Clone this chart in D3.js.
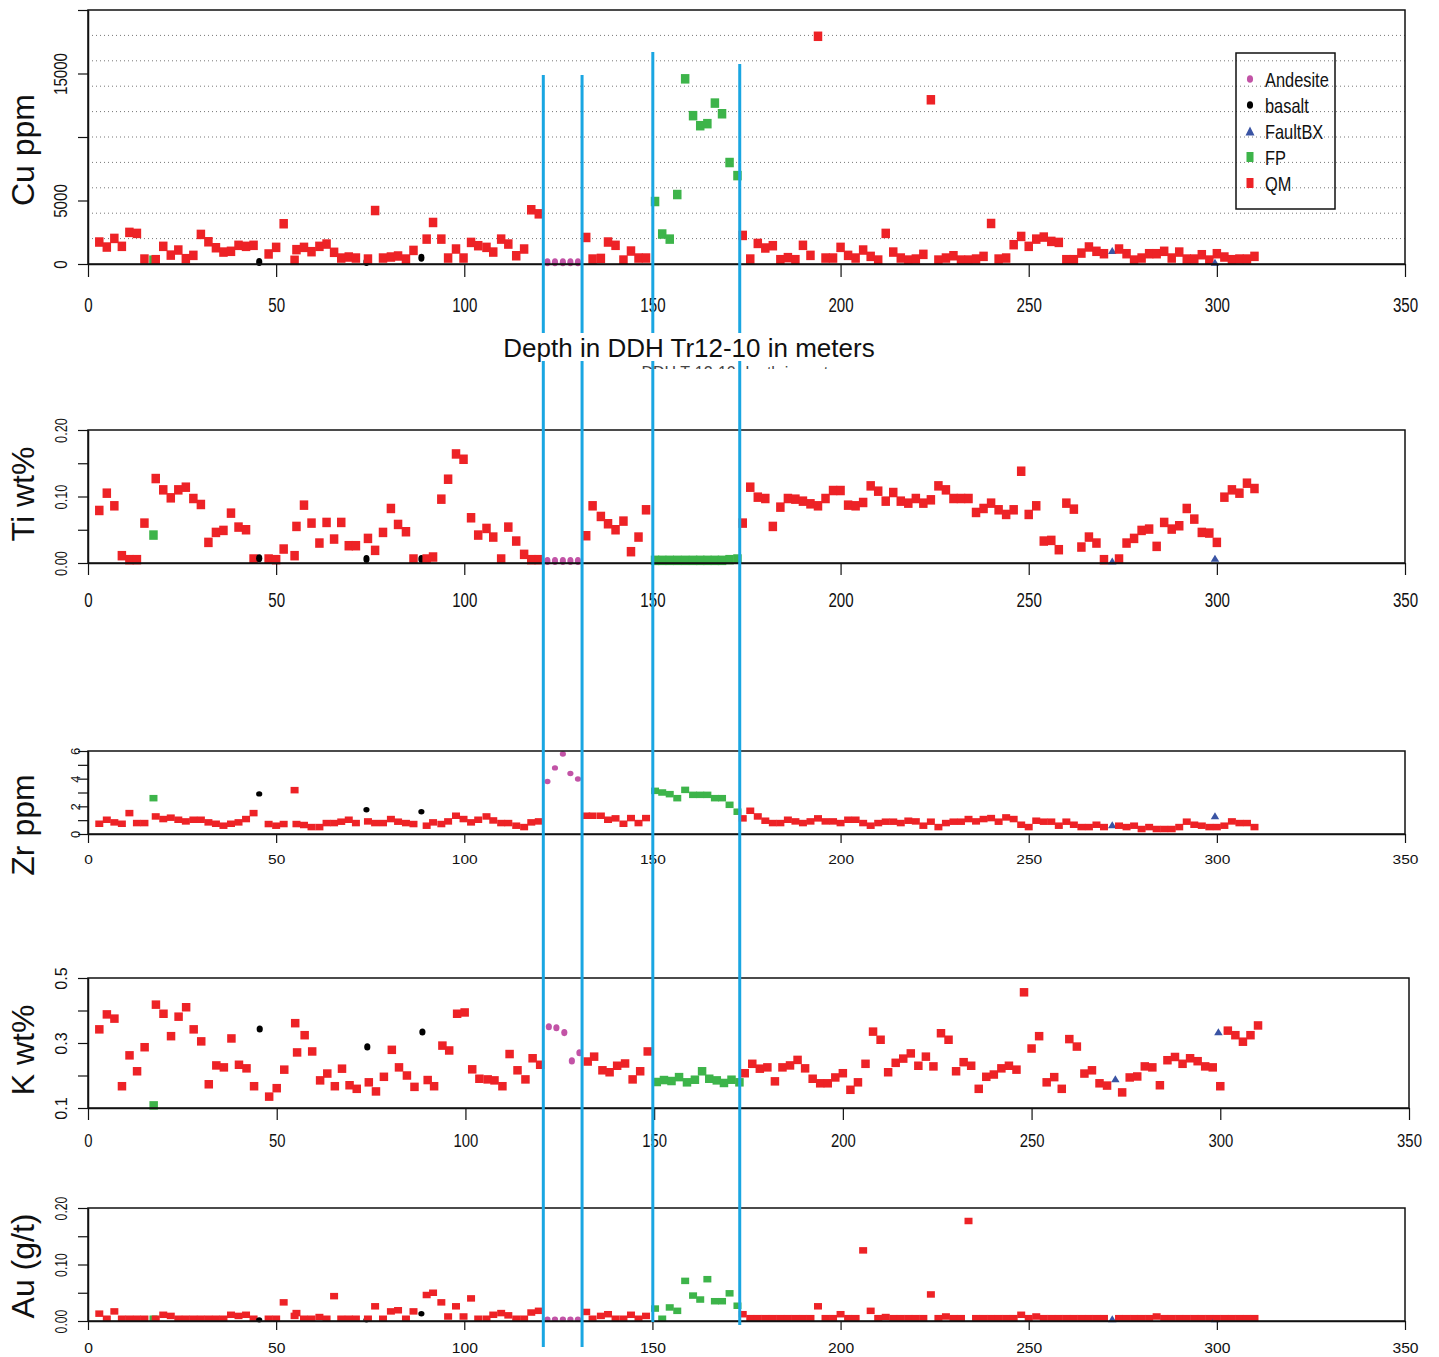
<!DOCTYPE html>
<html>
<head>
<meta charset="utf-8">
<script src="https://cdn.jsdelivr.net/npm/d3@7"></script>
<style>
body { margin: 0; background: #fff; }
svg { display: block; font-family: "Liberation Sans", Arial, sans-serif; }
</style>
</head>
<body>
<script>
// ---- data (depth in m) ----
const xTicks = [0, 50, 100, 150, 200, 250, 300, 350]
const contactDepths = [121.0, 131.3, 150.1, 173.2]
const lithoNames = ['Andesite', 'basalt', 'FaultBX', 'FP', 'QM']

const qmDepth = [3,5,7,9,11,13,15, 18,20,22,24,26,28,30,32,34,36,38,40,42,44, 48,50,52, 54.9,55.4,
  57.4,59.4,61.5,63.4,65.4,67.3,69.3,71.2, 74.4,76.3,78.4,80.5,82.4,84.5,86.5,
  90,91.7,93.9,95.7,97.8,99.8,101.8,103.7,105.9,107.7,109.8,111.7,113.8,115.9,117.8,119.8,
  132.4,134.1,136.3,138.2,140.2,142.3,144.3,146.3,148.3,
  174,176,178,180,182,184,186,188,190,192, 194,196,198,200,202,204,206,208,210,212,
  214,216,218,220,222,224,226,228,230,232, 234,236,238,240,242,244,246,248,250,252,
  254,256,258,260,262,264,266,268,270, 274,276,278,280,282,284,286,288,290,292,
  294,296,298,300,302,304,306,308,310]
const qmCu = [1730,1335,2015,1390,2490,2410,390, 340,1390,700,1100,420,680,2330,1750,1280,940,1000,1470,1390,1470,
  790,1310,3170, 290,1130, 1310,970,1390,1570,920,470,550,470, 390,4210,470,550,630,390,1070,
  1960,3270,1960,470,1180,470,1700,1440,1310,940,1960,1570,650,1180,4270,3950,
  2090,390,440,1730,1470,310,1020,470,470,
  2250,390,1620,1260,1440,340,500,340,1470,680, 17930,470,470,1310,680,470,1100,600,310,2410,
  940,470,310,390,760,12930,310,470,650,310, 310,390,600,3190,390,470,1520,2170,1390,1960,
  2120,1780,1700,340,340,860,1340,1000,810, 1180,810,310,470,810,810,1000,470,940,390,
  390,730,310,810,550,340,390,390,600]
const qmTi = [0.079,0.105,0.086,0.011,0.005,0.005,0.060,
  0.127,0.110,0.098,0.110,0.114,0.097,0.088,0.031,0.046,0.049,0.075,0.054,0.050,0.006,
  0.006,0.005,0.021, 0.011,0.055, 0.087,0.060,0.030,0.061,0.036,0.061,0.026,0.026,
  0.037,0.019,0.046,0.082,0.058,0.047,0.006,
  0.006,0.009,0.096,0.126,0.164,0.156,0.068,0.042,0.052,0.039,0.006,0.054,0.033,0.013,0.005,0.005,
  0.041,0.086,0.070,0.059,0.050,0.063,0.017,0.039,0.080,
  0.060,0.114,0.099,0.097,0.055,0.084,0.097,0.096,0.093,0.089,
  0.086,0.097,0.109,0.109,0.087,0.086,0.091,0.116,0.108,0.093,
  0.106,0.093,0.090,0.097,0.090,0.095,0.116,0.110,0.097,0.097,
  0.097,0.076,0.082,0.090,0.080,0.073,0.080,0.138,0.073,0.086,
  0.033,0.034,0.020,0.090,0.081,0.024,0.039,0.030,0.005,
  0.006,0.030,0.037,0.049,0.051,0.025,0.061,0.051,0.056,0.082,
  0.066,0.046,0.045,0.031,0.099,0.110,0.105,0.120,0.112]
const qmZr = [0.74,1.03,0.84,0.74,1.51,0.79,0.79,
  1.27,1.08,1.18,1.03,0.91,1.03,1.03,0.84,0.74,0.60,0.74,0.84,1.08,1.51,
  0.72,0.60,0.72, 3.17,0.72, 0.65,0.50,0.50,0.79,0.79,0.89,1.03,0.79,
  0.91,0.79,0.79,1.08,0.89,0.79,0.72,
  0.60,0.84,0.72,0.91,1.32,1.08,0.84,1.03,1.27,0.98,0.79,0.79,0.60,0.50,0.84,0.91,
  1.32,1.32,1.32,1.03,1.13,0.74,1.15,0.79,1.15,
  1.13,1.68,1.27,0.96,0.79,0.79,1.03,0.91,0.79,0.91,
  1.13,0.91,0.91,0.79,1.03,1.03,0.79,0.60,0.79,0.89,
  0.89,0.79,0.96,0.91,0.60,0.89,0.50,0.79,0.89,0.89,
  1.08,0.91,1.08,1.15,0.89,1.20,1.08,0.67,0.50,0.96,
  0.89,0.89,0.60,0.89,0.67,0.50,0.50,0.67,0.50,
  0.60,0.50,0.60,0.36,0.50,0.36,0.36,0.36,0.50,0.89,
  0.67,0.60,0.50,0.50,0.60,0.91,0.79,0.79,0.50]
const qmK = [0.342,0.388,0.375,0.167,0.262,0.213,0.287,
  0.418,0.390,0.321,0.381,0.410,0.342,0.305,0.173,0.231,0.225,0.314,0.233,0.222,0.167,
  0.135,0.161,0.218, 0.361,0.271, 0.324,0.274,0.185,0.206,0.167,0.221,0.170,0.159,
  0.179,0.151,0.196,0.279,0.225,0.200,0.165,
  0.186,0.167,0.292,0.277,0.390,0.394,0.219,0.190,0.188,0.185,0.167,0.266,0.216,0.188,0.253,0.233,
  0.243,0.258,0.216,0.210,0.230,0.237,0.188,0.213,0.274,
  0.207,0.236,0.221,0.225,0.182,0.225,0.231,0.248,0.222,0.190,
  0.176,0.176,0.194,0.207,0.156,0.179,0.236,0.335,0.310,0.210,
  0.239,0.252,0.268,0.230,0.258,0.228,0.330,0.310,0.213,0.241,
  0.230,0.159,0.196,0.203,0.222,0.230,0.218,0.456,0.283,0.321,
  0.179,0.195,0.159,0.312,0.289,0.206,0.216,0.176,0.169,
  0.148,0.194,0.197,0.228,0.225,0.170,0.247,0.257,0.236,0.253,
  0.244,0.228,0.225,0.167,0.338,0.324,0.304,0.324,0.354]
const qmAu = [0.013,0.004,0.017,0.004,0.004,0.004,0.004,
  0.004,0.011,0.009,0.004,0.004,0.004,0.004,0.004,0.004,0.004,0.011,0.009,0.011,0.004,
  0.004,0.004,0.033, 0.009,0.014, 0.004,0.004,0.007,0.004,0.044,0.004,0.004,0.004,
  0.004,0.026,0.004,0.017,0.019,0.004,0.017,
  0.046,0.050,0.033,0.008,0.026,0.008,0.040,0.004,0.004,0.011,0.014,0.010,0.004,0.004,0.015,0.018,
  0.016,0.004,0.009,0.012,0.004,0.004,0.011,0.004,0.009,
  0.012,0.005,0.005,0.005,0.005,0.005,0.005,0.005,0.005,0.005,
  0.026,0.005,0.005,0.012,0.005,0.005,0.125,0.018,0.005,0.007,
  0.005,0.005,0.005,0.005,0.005,0.047,0.005,0.008,0.005,0.005,
  0.177,0.005,0.005,0.005,0.005,0.005,0.005,0.011,0.005,0.008,
  0.005,0.005,0.005,0.005,0.005,0.005,0.005,0.005,0.005,
  0.005,0.005,0.005,0.005,0.005,0.008,0.005,0.005,0.005,0.005,
  0.005,0.005,0.005,0.005,0.005,0.005,0.005,0.005,0.005]

const fpDepth = [17.4, 150.7,152.6,154.6,156.6,158.7,160.8,162.7,164.6,166.6,168.5,170.5,172.6]
const fpCu = [300, 4920,2360,1960,5470,14580,11680,10890,11050,12670,11830,7990,6960]
const fpTi = [0.042, 0.004,0.004,0.004,0.004,0.004,0.004,0.004,0.004,0.004,0.004,0.005,0.006]
const fpZr = [2.59, 3.12,3.00,2.88,2.59,3.19,2.83,2.83,2.83,2.59,2.59,2.11,1.61]
const fpK = [0.108, 0.180,0.186,0.183,0.195,0.179,0.187,0.213,0.190,0.185,0.177,0.187,0.179]
const fpAu = [0.004, 0.022,0.004,0.024,0.018,0.071,0.045,0.038,0.074,0.035,0.035,0.049,0.027]

const andDepth = [122.1, 124.1, 126.2, 128.2, 130.2]
const andCu = [130, 130, 130, 130, 130]
const andTi = [0.003, 0.003, 0.003, 0.003, 0.003]
const andZr = [3.79, 4.78, 5.78, 4.37, 3.98]
const andK = [0.350, 0.347, 0.332, 0.245, 0.270]
const andAu = [0.003, 0.003, 0.003, 0.003, 0.003]

const basDepth = [45.5, 74.0, 88.6]
const basCu = [150, 150, 500]
const basTi = [0.007, 0.006, 0.006]
const basZr = [2.90, 1.75, 1.61]
const basK = [0.343, 0.288, 0.334]
const basAu = [0.002, 0.002, 0.013]

const fbxDepth = [272.2, 299.5]
const fbxCu = [1070, 130]
const fbxTi = [0.003, 0.007]
const fbxZr = [0.67, 1.32]
const fbxK = [0.190, 0.335]
const fbxAu = [0.004, 0.004]

const cuGrid = [2000, 4000, 6000, 8000, 10000, 12000, 14000, 16000, 18000]

// ---- lithologies ----
const lithos = [
  {name: 'Andesite', depth: andDepth, vals: {cu: andCu, ti: andTi, zr: andZr, k: andK, au: andAu}, shape: 'circle', color: '#c253a6'},
  {name: 'basalt', depth: basDepth, vals: {cu: basCu, ti: basTi, zr: basZr, k: basK, au: basAu}, shape: 'circle', color: '#000000'},
  {name: 'FaultBX', depth: fbxDepth, vals: {cu: fbxCu, ti: fbxTi, zr: fbxZr, k: fbxK, au: fbxAu}, shape: 'triangle', color: '#3a54a4'},
  {name: 'FP', depth: fpDepth, vals: {cu: fpCu, ti: fpTi, zr: fpZr, k: fpK, au: fpAu}, shape: 'square', color: '#3db44a'},
  {name: 'QM', depth: qmDepth, vals: {cu: qmCu, ti: qmTi, zr: qmZr, k: qmK, au: qmAu}, shape: 'square', color: '#ed2226'}
]

// ---- panel layout ----
const panels = [
  {key: 'cu', title: 'Cu ppm', top: 10, bottom: 264, right: 1405, domain: [0, 20000],
    ticks: [0, 5000, 10000, 15000, 20000], labels: [0, 5000, 15000], fmt: d3.format('d'),
    mw: 8.5, mh: 9.5, xTick: 13, xBase: 312, xFont: 21, xs: 0.72, yFont: 18, ys: 0.84, yBase: 67, titleY: 150},
  {key: 'ti', title: 'Ti wt%', top: 430, bottom: 563, right: 1405, domain: [0, 0.2],
    ticks: [0, 0.05, 0.1, 0.15, 0.2], labels: [0, 0.1, 0.2], fmt: d3.format('.2f'),
    mw: 8.5, mh: 9.5, xTick: 12, xBase: 607, xFont: 21, xs: 0.72, yFont: 17, ys: 0.75, yBase: 67, titleY: 494},
  {key: 'zr', title: 'Zr ppm', top: 751, bottom: 834, right: 1405, domain: [0, 6],
    ticks: [0, 1, 2, 3, 4, 5, 6], labels: [0, 2, 4, 6], fmt: d3.format('d'),
    mw: 8, mh: 6.5, xTick: 9, xBase: 864, xFont: 13.5, xs: 1.15, yFont: 13, ys: 1.0, yBase: 80, titleY: 825},
  {key: 'k', title: 'K wt%', top: 978, bottom: 1108, right: 1409, domain: [0.1, 0.5],
    ticks: [0.1, 0.2, 0.3, 0.4, 0.5], labels: [0.1, 0.3, 0.5], fmt: d3.format('.1f'),
    mw: 8.5, mh: 8.5, xTick: 12, xBase: 1147, xFont: 18.6, xs: 0.8, yFont: 17, ys: 0.95, yBase: 67, titleY: 1050},
  {key: 'au', title: 'Au (g/t)', top: 1208, bottom: 1321, right: 1405, domain: [0, 0.2],
    ticks: [0, 0.05, 0.1, 0.15, 0.2], labels: [0, 0.1, 0.2], fmt: d3.format('.2f'),
    mw: 8, mh: 6.5, xTick: 9, xBase: 1353, xFont: 14.5, xs: 1.08, yFont: 17, ys: 0.72, yBase: 67, titleY: 1266}
]
const left = 88
const lineTops = [75, 75, 52, 64]
const lineBottoms = [1347, 1347, 1322, 1325]

const svg = d3.select('body').append('svg').attr('width', 1439).attr('height', 1357)

function symbol(g, shape, color, w, h){
  if(shape === 'square'){
    g.append('rect').attr('x', -w / 2).attr('y', -h / 2).attr('width', w).attr('height', h).attr('fill', color)
  } else if(shape === 'circle'){
    g.append('ellipse').attr('rx', w * 0.44).attr('ry', h * 0.42).attr('fill', color)
  } else {
    g.append('path').attr('d', `M0,${-h / 2}L${w / 2},${h / 2}L${-w / 2},${h / 2}Z`).attr('fill', color)
  }
}

let cuX = null
panels.forEach(p => {
  const x = d3.scaleLinear().domain([0, 350]).range([left, p.right])
  const y = d3.scaleLinear().domain(p.domain).range([p.bottom, p.top])
  if(p.key === 'cu') cuX = x
  const g = svg.append('g').attr('class', 'panel-' + p.key)

  if(p.key === 'cu'){
    g.selectAll('line.grid').data(cuGrid).join('line')
      .attr('class', 'grid')
      .attr('x1', left).attr('x2', p.right)
      .attr('y1', d => y(d)).attr('y2', d => y(d))
      .attr('stroke', '#777').attr('stroke-width', 1).attr('stroke-dasharray', '1,3')
  }

  // points, drawn in depth order
  const pts = lithos.flatMap(l => l.depth.map((d, i) => ({d: d, v: l.vals[p.key][i], l: l})))
    .sort((a, b) => a.d - b.d)
  pts.forEach(pt => {
    const s = g.append('g').attr('transform', `translate(${x(pt.d)},${y(pt.v)})`)
    const tri = pt.l.shape === 'triangle'
    symbol(s, pt.l.shape, pt.l.color, tri ? 8.5 : pt.l.shape === 'circle' ? 7 : p.mw, tri ? 7 : p.mh)
  })

  // box
  g.append('rect').attr('x', left).attr('y', p.top).attr('width', p.right - left).attr('height', p.bottom - p.top)
    .attr('fill', 'none').attr('stroke', '#111').attr('stroke-width', 1.5)

  // x axis
  const xa = g.append('g').attr('transform', `translate(0,${p.bottom})`)
    .call(d3.axisBottom(x).tickValues(xTicks).tickSize(p.xTick).tickSizeOuter(0).tickFormat(d3.format('d')))
  xa.select('.domain').attr('stroke', '#111').attr('stroke-width', 1.5)
  xa.selectAll('.tick line').attr('stroke', '#111').attr('stroke-width', 1.2)
  xa.selectAll('.tick text')
    .attr('y', null).attr('dy', null)
    .attr('transform', `translate(0,${p.xBase - p.bottom}) scale(${p.xs},1)`)
    .attr('font-size', p.xFont).attr('font-family', '"Liberation Sans", Arial, sans-serif').attr('fill', '#111')

  // y axis
  const ya = g.append('g').attr('transform', `translate(${left},0)`)
    .call(d3.axisLeft(y).tickValues(p.ticks).tickSize(10).tickSizeOuter(0)
      .tickFormat(d => p.labels.some(v => Math.abs(v - d) < 1e-9) ? p.fmt(d) : ''))
  ya.select('.domain').attr('stroke', '#111').attr('stroke-width', 1.5)
  ya.selectAll('.tick line').attr('stroke', '#111').attr('stroke-width', 1.2)
  ya.selectAll('.tick text')
    .attr('x', null).attr('dy', null)
    .attr('text-anchor', 'middle')
    .attr('transform', `translate(${p.yBase - left},0) rotate(-90) scale(${p.ys},1)`)
    .attr('font-size', p.yFont).attr('font-family', '"Liberation Sans", Arial, sans-serif').attr('fill', '#111')

  // y title
  svg.append('text')
    .attr('transform', `translate(34,${p.titleY}) rotate(-90)`)
    .attr('text-anchor', 'middle').attr('font-size', 32).attr('fill', '#111')
    .text(p.title)
})

// contact lines
svg.selectAll('line.contact').data(contactDepths).join('line')
  .attr('class', 'contact')
  .attr('x1', d => cuX(d)).attr('x2', d => cuX(d))
  .attr('y1', (d, i) => lineTops[i]).attr('y2', (d, i) => lineBottoms[i])
  .attr('stroke', '#1aa6e2').attr('stroke-width', 3)

// leftover label, mostly hidden under the x axis title
svg.append('clipPath').attr('id', 'ghostClip')
  .append('rect').attr('x', 600).attr('y', 363).attr('width', 300).attr('height', 6)
svg.append('text').attr('x', 746).attr('y', 378).attr('text-anchor', 'middle')
  .attr('clip-path', 'url(#ghostClip)')
  .attr('font-size', 16).attr('fill', '#444').text('DDH Tr12-10 depth in meters')

// x axis title of first panel
svg.append('rect').attr('x', 497).attr('y', 333).attr('width', 386).attr('height', 28).attr('fill', '#fff')
svg.append('text').attr('x', 689).attr('y', 357).attr('text-anchor', 'middle')
  .attr('font-size', 26).attr('fill', '#111').text('Depth in DDH Tr12-10 in meters')

// legend
const lg = svg.append('g').attr('transform', 'translate(1236,53)')
lg.append('rect').attr('width', 99).attr('height', 156).attr('fill', 'none')
  .attr('stroke', '#111').attr('stroke-width', 1.5)
lithoNames.forEach((name, i) => {
  const l = lithos.find(o => o.name === name)
  const row = lg.append('g').attr('transform', `translate(0,${26 + i * 26})`)
  const s = row.append('g').attr('transform', 'translate(14,0)')
  symbol(s, l.shape, l.color, l.shape === 'triangle' ? 9 : 7, l.shape === 'triangle' ? 9 : l.shape === 'circle' ? 9 : 10)
  row.append('text').attr('transform', 'translate(29,8) scale(0.82,1)')
    .attr('font-size', 20).attr('fill', '#111').text(name)
})
</script>
</body>
</html>
